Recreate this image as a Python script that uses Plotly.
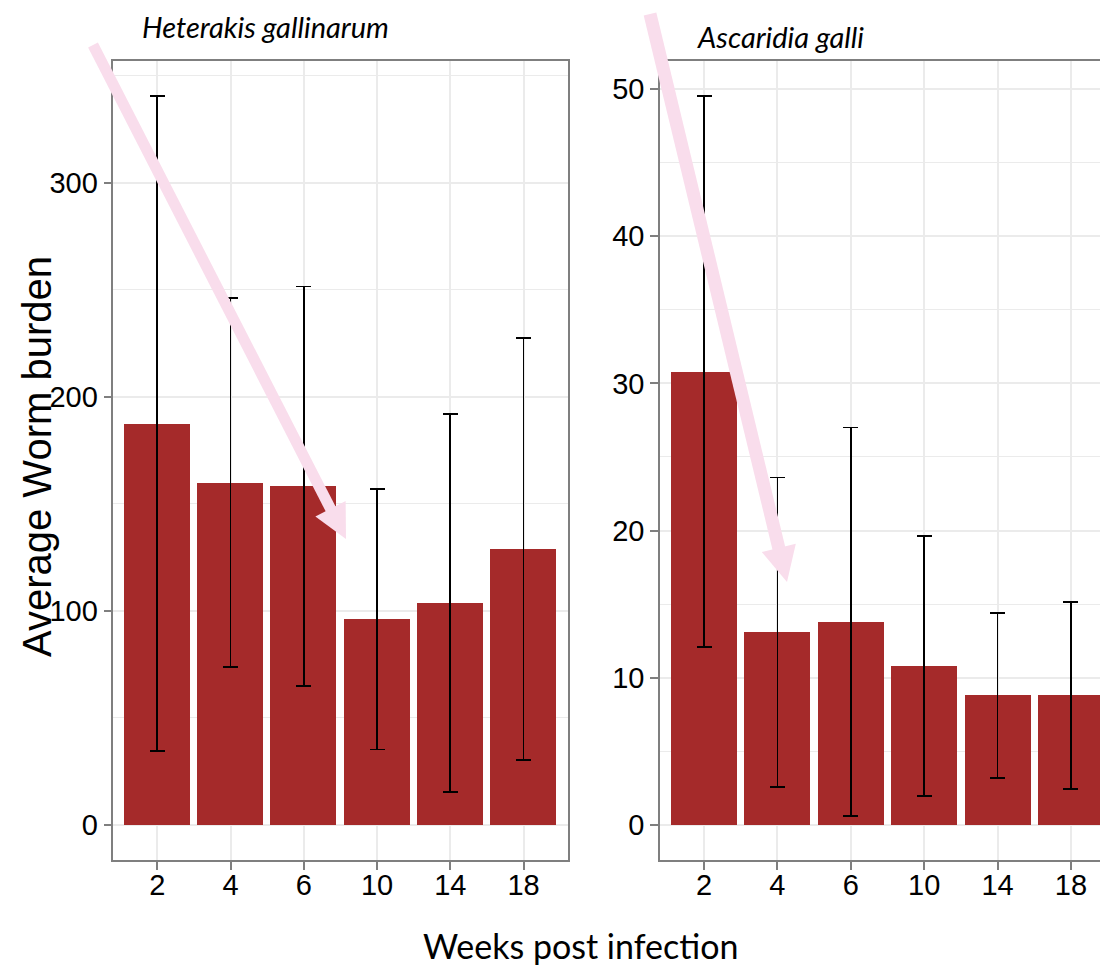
import plotly.graph_objects as go

# ---- data ----
weeks = ["2", "4", "6", "10", "14", "18"]
hg_mean = [187.5, 160.0, 158.2, 96.1, 103.8, 129.1]
hg_sd = [153.0, 86.2, 93.4, 60.9, 88.4, 98.6]
ag_mean = [30.8, 13.1, 13.8, 10.8, 8.8, 8.8]
ag_sd = [18.7, 10.5, 13.2, 8.85, 5.6, 6.35]
titles = ["Heterakis gallinarum", "Ascaridia galli"]
y_title = "Average Worm burden"
x_title = "Weeks post infection"

W, H = 1108, 973
OFF = 8  # page body margin of the browser
BAR = "#A52A2A"
GRID = "#EBEBEB"
BORDER = "#7F7F7F"
PINK = "#F9DDEC"
TICKFONT = dict(family="Liberation Sans, Arial", size=29, color="black")


def px(x):
    return (x - OFF) / W


def py(y):
    return 1 - (y - OFF) / H


fig = go.Figure()
fig.add_trace(go.Bar(x=weeks, y=hg_mean, width=0.9, marker=dict(color=BAR, line=dict(width=0)),
                     error_y=dict(type="data", array=hg_sd, color="black", thickness=1.8, width=7.5),
                     xaxis="x", yaxis="y", showlegend=False))
fig.add_trace(go.Bar(x=weeks, y=ag_mean, width=0.9, marker=dict(color=BAR, line=dict(width=0)),
                     error_y=dict(type="data", array=ag_sd, color="black", thickness=1.8, width=7.5),
                     xaxis="x2", yaxis="y2", showlegend=False))

ydom = [py(860), py(61)]
common_x = dict(type="category", showgrid=True, gridcolor=GRID, gridwidth=1.5,
                showline=True, linecolor=BORDER, linewidth=1.5, mirror=True,
                ticks="outside", ticklen=8, tickwidth=1.5, tickcolor=BORDER,
                tickfont=TICKFONT, ticklabelstandoff=-10, zeroline=False, range=[-0.6, 5.6])
common_y = dict(showgrid=True, gridcolor=GRID, gridwidth=1.5, zeroline=False,
                showline=True, linecolor=BORDER, linewidth=1.5, mirror=True,
                ticks="outside", ticklen=8, tickwidth=1.5, tickcolor=BORDER,
                tickfont=TICKFONT, domain=ydom, tick0=0)

fig.update_layout(
    width=W, height=H,
    margin=dict(l=0, r=0, t=0, b=0),
    paper_bgcolor="white", plot_bgcolor="white",
    bargap=0,
    xaxis=dict(domain=[px(113.4), px(567.5)], anchor="y", **common_x),
    yaxis=dict(range=[-16.4, 357.0], dtick=100, anchor="x",
               minor=dict(dtick=50, showgrid=True, gridcolor=GRID, gridwidth=1), **common_y),
    xaxis2=dict(domain=[px(660), px(1115)], anchor="y2", **common_x),
    yaxis2=dict(range=[-2.38, 51.9], dtick=10, anchor="x2",
                minor=dict(dtick=5, showgrid=True, gridcolor=GRID, gridwidth=1), **common_y),
)

annotations = [
    dict(text=titles[0], x=px(140), y=py(27), xref="paper", yref="paper", xanchor="left",
         yanchor="middle", showarrow=False,
         font=dict(family="Lato, Carlito, Calibri", size=29, color="black", style="italic")),
    dict(text=titles[1], x=px(695), y=py(36), xref="paper", yref="paper", xanchor="left",
         yanchor="middle", showarrow=False,
         font=dict(family="Lato, Carlito, Calibri", size=29, color="black", style="italic")),
    dict(text=y_title, x=px(37), y=py(457), xref="paper", yref="paper", xanchor="center",
         yanchor="middle", showarrow=False, textangle=-90,
         font=dict(family="Liberation Sans, Arial", size=40, color="black")),
    dict(text=x_title, x=px(580), y=py(945), xref="paper", yref="paper", xanchor="center",
         yanchor="middle", showarrow=False,
         font=dict(family="Lato, Carlito, Calibri", size=34, color="black")),
]
fig.update_layout(annotations=annotations)


# decorative pink arrows (pixel geometry converted to paper coords)
def arrow(start, tip, lw, head_len, head_half):
    sx, sy = start
    tx, ty = tip
    dx, dy = tx - sx, ty - sy
    L = (dx ** 2 + dy ** 2) ** 0.5
    ux, uy = dx / L, dy / L
    mx, my = tx - head_len * ux, ty - head_len * uy
    ex, ey = tx - (head_len - 4) * ux, ty - (head_len - 4) * uy
    nx, ny = uy, -ux
    w1 = (mx + head_half * nx, my + head_half * ny)
    w2 = (mx - head_half * nx, my - head_half * ny)
    return [
        dict(type="line", xref="paper", yref="paper", x0=px(sx), y0=py(sy), x1=px(ex), y1=py(ey),
             line=dict(color=PINK, width=lw), layer="above"),
        dict(type="path", xref="paper", yref="paper",
             path=f"M {px(tx)},{py(ty)} L {px(w1[0])},{py(w1[1])} L {px(w2[0])},{py(w2[1])} Z",
             fillcolor=PINK, line=dict(width=0), layer="above"),
    ]


shapes = arrow((93, 45), (346, 539), 11, 34, 17) + arrow((650, 14), (787, 582), 13, 35, 17.5)
fig.update_layout(shapes=shapes)

fig.write_html("out.html")
